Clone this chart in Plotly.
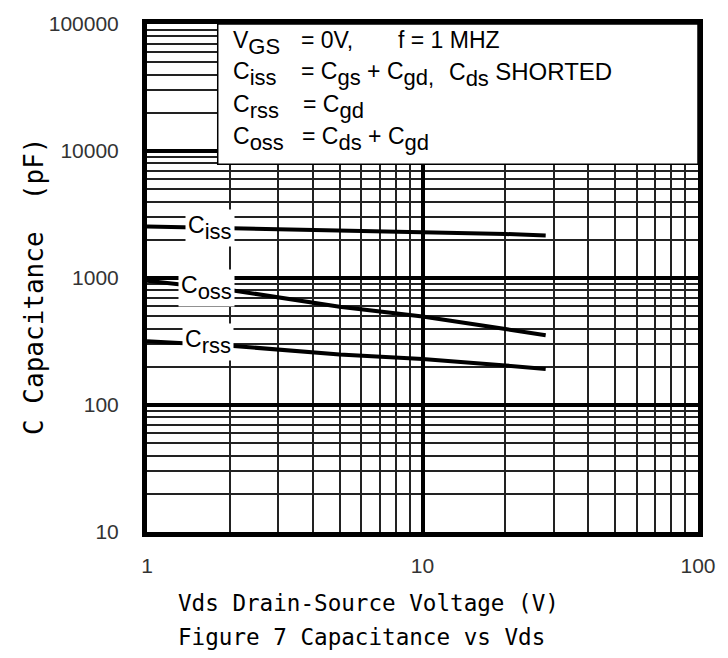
import math
import plotly.graph_objects as go

# ---- data ----
vds = [1, 2, 5, 10, 20, 28]
ciss = [2540, 2460, 2400, 2300, 2220, 2165]
coss = [950, 805, 594, 498, 396, 354]
crss = [318, 293, 250, 230, 205, 192]

x_tick_vals = [1, 10, 100]
x_tick_text = ["1", "10", "100"]
y_tick_vals = [10, 100, 1000, 10000, 100000]
y_tick_text = ["10", "100", "1000", "10000", "100000"]

curve_names = ["iss", "oss", "rss"]
curve_values = [ciss, coss, crss]

x_title = "Vds Drain-Source Voltage (V)"
fig_title = "Figure 7 Capacitance vs Vds"
y_title = "C Capacitance  (pF)"

# ---- styles ----
SANS = "Liberation Sans, Arial, sans-serif"
MONO = "DejaVu Sans Mono, Liberation Mono, monospace"
FS = 23      # main text size in the notes
SUB = 22     # subscript size


def sub(t, size=SUB):
    return f"<span style='font-size:{size}px;baseline-shift:-6px'>{t}</span>"


fig = go.Figure()

for name, vals in zip(curve_names, curve_values):
    fig.add_trace(go.Scatter(x=vds, y=vals, mode="lines", name="C" + name,
                             line=dict(color="black", width=4), hoverinfo="skip"))

# curve labels (white boxes interrupt the curve and grid)
label_pos = {"iss": (1.70, 2470), "oss": (1.64, 840), "rss": (1.66, 312)}
for name in curve_names:
    lx, ly = label_pos[name]
    fig.add_annotation(x=math.log10(lx), y=math.log10(ly), xref="x", yref="y",
                       text="C" + sub(name), showarrow=False,
                       font=dict(family=SANS, size=FS, color="black"),
                       bgcolor="white", borderpad=2, xanchor="center", yanchor="middle")

# legend box covering the grid in the upper right
fig.add_shape(type="rect", xref="x", yref="y", x0=1.806, x1=100, y0=7850, y1=100000,
              fillcolor="white", line=dict(color="black", width=1.5), layer="above")

W, H, L, T = 561, 514, 147, 18


def px(x):
    return (x - L) / W


def py(y):
    return (T + H - y) / H


notes = [
    (234, 20, "V" + sub("GS")),
    (303, 20, "= 0V,"),
    (402, 20, "f = 1 MHZ"),
    (234, 51, "C" + sub("iss")),
    (303, 51, "= C" + sub("gs") + " + C" + sub("gd,")),
    (453, 51, "C" + sub("ds") + " <span style='font-size:24px'>SHORTED</span>"),
    (234, 85, "C" + sub("rss")),
    (305, 85, "= C" + sub("gd")),
    (234, 117, "C" + sub("oss")),
    (304, 117, "= C" + sub("ds") + " + C" + sub("gd")),
]
for nx, ny, txt in notes:
    fig.add_annotation(x=px(nx), y=py(ny), xref="paper", yref="paper", text=txt,
                       showarrow=False, xanchor="left", yanchor="top", borderpad=0,
                       font=dict(family=SANS, size=FS, color="black"))

# axis titles
fig.add_annotation(x=px(177), y=py(604), xref="paper", yref="paper", text=x_title,
                   showarrow=False, xanchor="left", yanchor="middle",
                   font=dict(family=MONO, size=22.6, color="black"))
fig.add_annotation(x=px(177), y=py(638), xref="paper", yref="paper", text=fig_title,
                   showarrow=False, xanchor="left", yanchor="middle",
                   font=dict(family=MONO, size=22.6, color="black"))
fig.add_annotation(x=px(32), y=py(284), xref="paper", yref="paper", text=y_title,
                   showarrow=False, textangle=-90, xanchor="center", yanchor="middle",
                   font=dict(family=MONO, size=26, color="black"))

axis_common = dict(
    type="log", showline=True, mirror=True, linewidth=5, linecolor="black",
    showgrid=True, gridcolor="black", gridwidth=3.5, ticks="", zeroline=False,
    tickfont=dict(family=SANS, size=21, color="#333"),
    minor=dict(dtick="D1", showgrid=True, gridcolor="#222", gridwidth=1.5, ticks=""),
)
fig.update_xaxes(range=[0, 2], tickmode="array", tickvals=x_tick_vals, ticktext=x_tick_text,
                 ticklabelstandoff=11, **axis_common)
fig.update_yaxes(range=[1, 5], tickmode="array", tickvals=y_tick_vals, ticktext=y_tick_text,
                 ticklabelstandoff=19, **axis_common)

fig.update_layout(width=728, height=658, margin=dict(l=L, r=728 - L - W, t=T, b=658 - T - H),
                  paper_bgcolor="white", plot_bgcolor="white", showlegend=False)

fig.write_html("out.html")
